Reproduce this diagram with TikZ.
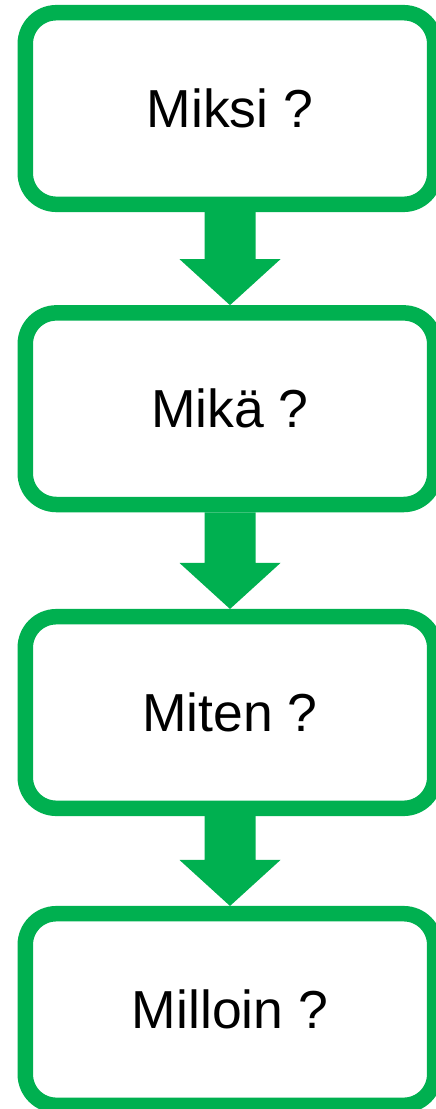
\documentclass[tikz,border=0pt]{standalone}
\usepackage{fontspec}
\setmainfont{Liberation Sans}
\usetikzlibrary{calc}
\definecolor{stepgreen}{HTML}{00B050}
\tikzset{
  qbox/.style={draw=stepgreen, line width=15.5pt, rounded corners=31pt, fill=white,
    minimum width=409.4pt, minimum height=191.6pt, inner sep=0pt,
    font=\fontsize{53.5}{60}\selectfont},
  flowarrow/.style={fill=stepgreen, draw=none}
}
% block arrow from the bottom of one box to the top of the next
\newcommand{\blockarrow}[2]{%
  \fill[flowarrow] ($(#1.south)+(-25.5,0)$) -- ($(#1.south)+(25.5,0)$)
    -- ($(#2.north)+(25.5,-46)$) -- ($(#2.north)+(50.5,-46)$)
    -- (#2.north)
    -- ($(#2.north)+(-50.5,-46)$) -- ($(#2.north)+(-25.5,-46)$) -- cycle;}
\begin{document}
\begin{tikzpicture}[x=1pt,y=-1pt]
  \useasboundingbox (0,0) rectangle (436,1109);
  \node[qbox] (b1) at (230,108.5) {Miksi ?};
  \node[qbox] (b2) at (230,408.7) {Mikä ?};
  \node[qbox] (b3) at (230,712.5) {Miten ?};
  \node[qbox] (b4) at (230,1009.5) {Milloin ?};
  \blockarrow{b1}{b2}
  \blockarrow{b2}{b3}
  \blockarrow{b3}{b4}
\end{tikzpicture}
\end{document}
